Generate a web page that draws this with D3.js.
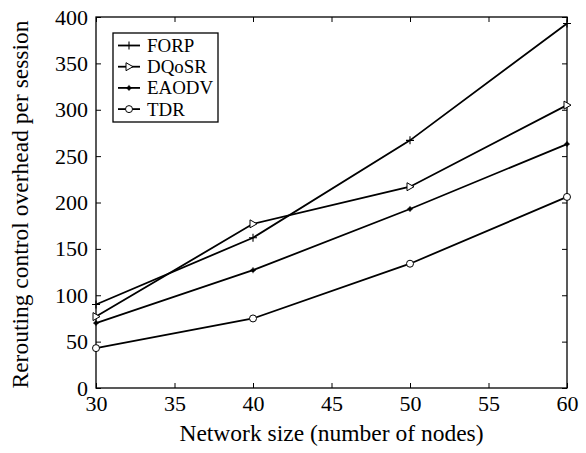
<!DOCTYPE html>
<html>
<head>
<meta charset="utf-8">
<script src="https://cdn.jsdelivr.net/npm/d3@7"></script>
<style>
  body { margin: 0; background: #fff; }
  text { font-family: "Liberation Serif", "Times New Roman", serif; fill: #000; }
</style>
</head>
<body>
<div id="chart"></div>
<script>
var nodes = [30, 40, 50, 60];
var forp  = [90, 162, 267, 393];
var dqosr = [77, 177, 217, 305];
var eaodv = [70, 127, 193, 263];
var tdr   = [43, 75, 134, 206];
var xTicks = [30, 35, 40, 45, 50, 55, 60];
var yTicks = [0, 50, 100, 150, 200, 250, 300, 350, 400];

var series = [
  {name: "FORP", values: forp, marker: "plus"},
  {name: "DQoSR", values: dqosr, marker: "tri"},
  {name: "EAODV", values: eaodv, marker: "star"},
  {name: "TDR", values: tdr, marker: "circle"}
];

var margin = {top: 17, right: 19, bottom: 65, left: 96},
    width = 586 - margin.left - margin.right,
    height = 453 - margin.top - margin.bottom;

var svg = d3.select("#chart")
  .append("svg")
    .attr("width", 586)
    .attr("height", 453)
  .append("g")
    .attr("transform", "translate(" + margin.left + "," + margin.top + ")");

var x = d3.scaleLinear().domain([30, 60]).range([0, width]);
var y = d3.scaleLinear().domain([0, 400]).range([height, 0]);

// axes with inward ticks on all four sides
function styleAxis(g) {
  g.select(".domain").remove();
  g.selectAll("line").attr("stroke", "#000").attr("stroke-width", 1);
  g.selectAll("text").style("font-size", "22px").style("font-family", "Liberation Serif");
}
svg.append("g")
  .attr("transform", "translate(0," + height + ")")
  .call(d3.axisBottom(x).tickValues(xTicks).tickSizeInner(-5).tickSizeOuter(0).tickPadding(7))
  .call(styleAxis);
svg.append("g")
  .call(d3.axisTop(x).tickValues(xTicks).tickSizeInner(-5).tickSizeOuter(0).tickFormat(""))
  .call(styleAxis);
svg.append("g")
  .call(d3.axisLeft(y).tickValues(yTicks).tickSizeInner(-5).tickSizeOuter(0).tickPadding(8))
  .call(styleAxis);
svg.append("g")
  .attr("transform", "translate(" + width + ",0)")
  .call(d3.axisRight(y).tickValues(yTicks).tickSizeInner(-5).tickSizeOuter(0).tickFormat(""))
  .call(styleAxis);

svg.append("rect")
  .attr("width", width).attr("height", height)
  .attr("fill", "none").attr("stroke", "#000").attr("stroke-width", 1.3);

function drawMarker(g, type, cx, cy) {
  if (type === "plus") {
    g.append("path").attr("d", "M" + (cx - 4) + "," + cy + "h8M" + cx + "," + (cy - 4) + "v8")
      .attr("stroke", "#000").attr("stroke-width", 1.1).attr("fill", "none");
  } else if (type === "tri") {
    g.append("path").attr("d", "M" + (cx + 4) + "," + cy + "L" + (cx - 3) + "," + (cy - 4) + "L" + (cx - 3) + "," + (cy + 4) + "Z")
      .attr("stroke", "#000").attr("stroke-width", 1).attr("fill", "#fff");
  } else if (type === "star") {
    g.append("circle").attr("cx", cx).attr("cy", cy).attr("r", 2).attr("fill", "#000");
    g.append("path").attr("d", "M" + (cx - 3) + "," + cy + "h6M" + cx + "," + (cy - 3) + "v6")
      .attr("stroke", "#000").attr("stroke-width", 0.9);
  } else {
    g.append("circle").attr("cx", cx).attr("cy", cy).attr("r", 3.5)
      .attr("stroke", "#000").attr("stroke-width", 1).attr("fill", "#fff");
  }
}

var line = d3.line()
  .x(function(d, i) { return x(nodes[i]); })
  .y(function(d) { return y(d); });

series.forEach(function(s) {
  var g = svg.append("g");
  g.append("path")
    .attr("d", line(s.values))
    .attr("fill", "none")
    .attr("stroke", "#000")
    .attr("stroke-width", 1.8);
  s.values.forEach(function(v, i) {
    drawMarker(g, s.marker, x(nodes[i]), y(v));
  });
});

// legend
var legend = svg.append("g").attr("transform", "translate(17,16)");
legend.append("rect")
  .attr("width", 105).attr("height", 89)
  .attr("fill", "#fff").attr("stroke", "#000").attr("stroke-width", 1.3);
series.forEach(function(s, i) {
  var ly = 12.5 + i * 21.2;
  legend.append("line")
    .attr("x1", 5).attr("x2", 27).attr("y1", ly).attr("y2", ly)
    .attr("stroke", "#000").attr("stroke-width", 1.8);
  drawMarker(legend, s.marker, 16, ly);
  legend.append("text")
    .attr("x", 34).attr("y", ly + 6.5)
    .style("font-size", "18.9px")
    .text(s.name);
});

// axis titles
svg.append("text")
  .attr("text-anchor", "middle")
  .attr("x", width / 2)
  .attr("y", height + 53)
  .style("font-size", "23.5px")
  .text("Network size (number of nodes)");
svg.append("text")
  .attr("text-anchor", "middle")
  .attr("transform", "translate(-68," + (height / 2 + 2) + ") rotate(-90)")
  .style("font-size", "23.5px")
  .text("Rerouting control overhead per session");
</script>
</body>
</html>
